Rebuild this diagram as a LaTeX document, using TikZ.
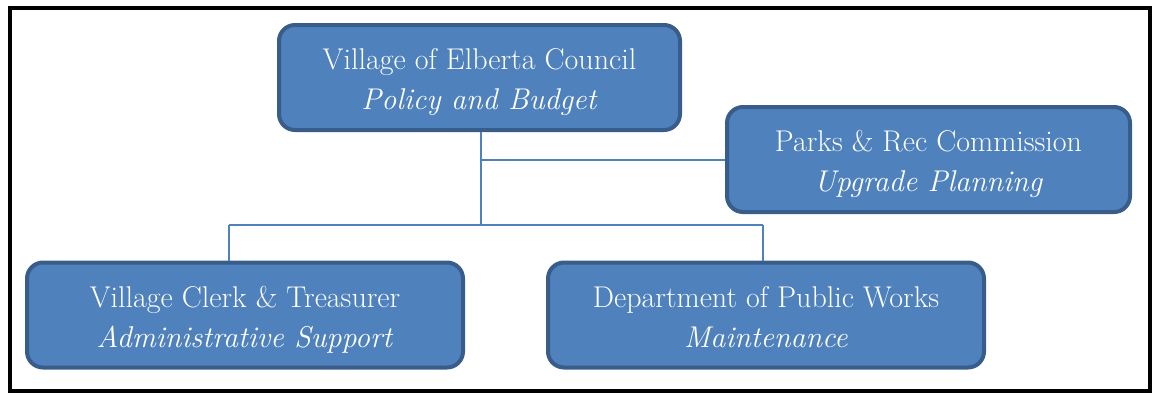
\documentclass[tikz,border=0pt]{standalone}
\usepackage{tikz}
\definecolor{unitfill}{RGB}{79,129,189}
\definecolor{unitedge}{RGB}{56,93,138}

\begin{document}
\begin{tikzpicture}[x=1pt, y=-1pt,
		unit/.style={draw=unitedge, fill=unitfill, line width=4pt, rounded corners=16pt, text=white, inner sep=0pt, minimum height=105pt, align=center, text height=72pt, text depth=8pt, font=\fontsize{30}{40}\selectfont},
		link/.style={draw=unitfill, line width=1.6pt}]
		\useasboundingbox (0,0) rectangle (1156,394);
		\draw[line width=4pt] (10,8) rectangle (1150,391);

		\path (479.5,77.5) node[unit, minimum width=401pt] (council) {Village of Elberta Council\\\textit{Policy and Budget}}
		(928.5,159.5) node[unit, minimum width=403pt] (parks) {Parks \& Rec Commission\\\textit{Upgrade Planning}}
		(245,315) node[unit, minimum width=436pt] (clerk) {Village Clerk \& Treasurer\\\textit{Administrative Support}}
		(766,315) node[unit, minimum width=436pt] (works) {Department of Public Works\\\textit{Maintenance}};

		\coordinate (hub) at (481,225);
		\coordinate (bl) at (229,225);
		\coordinate (br) at (763,225);

		\draw[link] (hub |- council.south) -- (hub);
		\draw[link] (hub |- 0,160) -- (parks.west |- 0,160);
		\draw[link] (bl) -- (br);
		\draw[link] (bl) -- (bl |- clerk.north);
		\draw[link] (br) -- (br |- works.north);
	\end{tikzpicture}
\end{document}
